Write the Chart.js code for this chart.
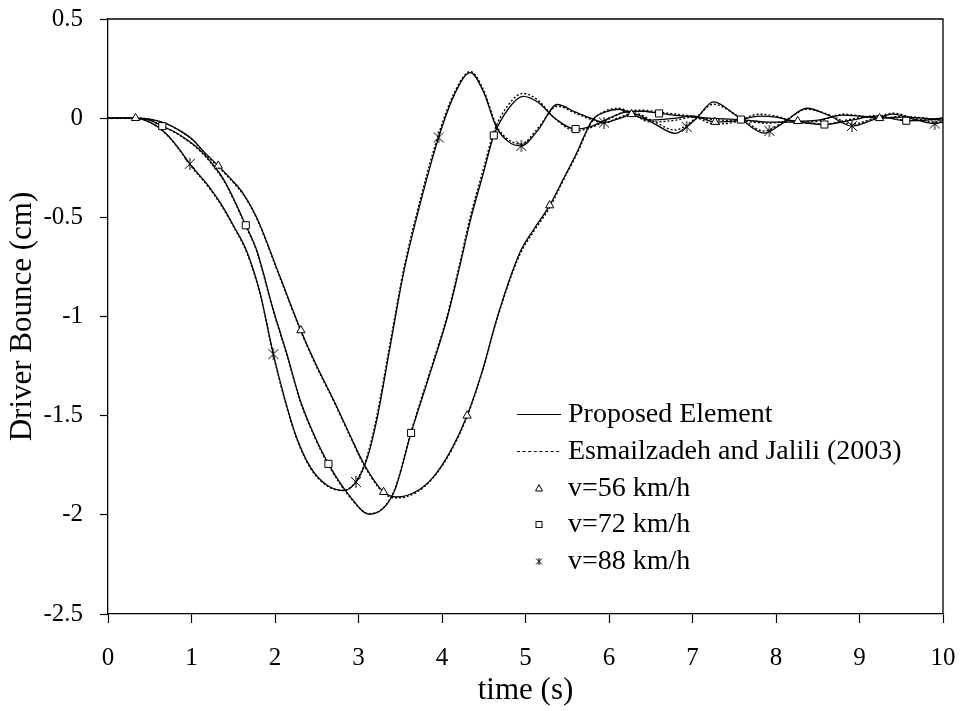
<!DOCTYPE html>
<html>
<head>
<meta charset="utf-8">
<script src="https://cdn.jsdelivr.net/npm/chart.js@4/dist/chart.umd.min.js"></script>
<style>
  html, body { margin: 0; padding: 0; background: #fff; }
  canvas { display: block; }
</style>
</head>
<body>
<canvas id="bounceChart" width="964" height="711"></canvas>
<script>
// driver bounce (cm) against time (s), one curve per vehicle speed
const t56 = [0, 0.33, 0.5, 0.7, 0.85, 1.02, 1.15, 1.32, 1.48, 1.62, 1.78, 2.06, 2.31, 2.5, 2.7, 2.9, 3.06, 3.3, 3.46, 3.7, 3.9, 4.1, 4.3, 4.5, 4.65, 4.93, 5.1, 5.29, 5.45, 5.61, 5.8, 5.95, 6.12, 6.27, 6.5, 6.8, 7.0, 7.27, 7.5, 7.8, 8.0, 8.26, 8.5, 8.8, 9.0, 9.24, 9.5, 9.75, 10];
const bounce56 = [0, 0, -0.005, -0.027, -0.06, -0.11, -0.17, -0.24, -0.31, -0.38, -0.5, -0.8, -1.07, -1.25, -1.42, -1.6, -1.74, -1.885, -1.91, -1.88, -1.807, -1.68, -1.5, -1.25, -1.02, -0.68, -0.56, -0.44, -0.31, -0.178, -0.01, 0.03, 0.045, 0.02, -0.01, 0, 0.012, -0.019, -0.015, 0.01, 0.005, -0.015, -0.01, 0.015, 0.01, 0, 0.005, 0, -0.01];
const ref56 = [0, 0, -0.005, -0.028, -0.062, -0.112, -0.173, -0.245, -0.315, -0.385, -0.505, -0.805, -1.075, -1.255, -1.425, -1.605, -1.745, -1.89, -1.915, -1.885, -1.81, -1.685, -1.505, -1.255, -1.025, -0.69, -0.57, -0.45, -0.315, -0.185, -0.015, 0.035, 0.05, 0.025, -0.02, -0.01, 0.005, -0.03, -0.02, 0.02, 0.01, -0.02, -0.015, 0.02, 0.012, 0, 0.008, 0.002, -0.01];

const t72 = [0, 0.3, 0.5, 0.65, 0.8, 0.95, 1.1, 1.25, 1.4, 1.65, 1.78, 1.98, 2.15, 2.3, 2.45, 2.64, 2.9, 3.13, 3.42, 3.63, 3.74, 3.9, 4.06, 4.2, 4.34, 4.5, 4.62, 4.8, 4.97, 5.15, 5.35, 5.6, 5.8, 6.0, 6.2, 6.4, 6.6, 6.9, 7.2, 7.58, 7.9, 8.2, 8.58, 8.9, 9.2, 9.56, 9.8, 10];
const bounce72 = [0, 0, -0.01, -0.04, -0.07, -0.11, -0.16, -0.23, -0.32, -0.54, -0.665, -0.967, -1.2, -1.42, -1.58, -1.743, -1.908, -1.997, -1.89, -1.587, -1.44, -1.23, -1.01, -0.77, -0.515, -0.27, -0.087, 0.05, 0.11, 0.08, 0, -0.055, -0.04, 0, 0.03, 0.035, 0.024, 0.01, 0, -0.007, -0.02, -0.02, -0.032, -0.01, 0.01, -0.013, -0.01, 0];
const ref72 = [0, 0, -0.01, -0.041, -0.072, -0.113, -0.164, -0.235, -0.325, -0.545, -0.67, -0.972, -1.205, -1.425, -1.585, -1.748, -1.912, -1.995, -1.885, -1.58, -1.43, -1.22, -1.0, -0.755, -0.495, -0.25, -0.07, 0.07, 0.125, 0.09, 0, -0.065, -0.045, -0.005, 0.035, 0.04, 0.03, 0.015, -0.005, -0.015, -0.025, -0.015, -0.03, -0.005, 0.012, -0.01, -0.008, 0.002];

const t88 = [0, 0.3, 0.5, 0.7, 0.86, 0.98, 1.2, 1.35, 1.5, 1.66, 1.82, 1.98, 2.12, 2.25, 2.42, 2.62, 2.82, 2.97, 3.1, 3.22, 3.38, 3.54, 3.74, 3.96, 4.15, 4.34, 4.5, 4.65, 4.8, 4.95, 5.15, 5.38, 5.6, 5.81, 5.94, 6.1, 6.3, 6.55, 6.79, 6.93, 7.05, 7.25, 7.55, 7.86, 8.1, 8.37, 8.65, 8.91, 9.15, 9.4, 9.65, 9.9, 10];
const bounce88 = [0, 0, -0.02, -0.08, -0.16, -0.23, -0.34, -0.43, -0.54, -0.67, -0.88, -1.19, -1.42, -1.6, -1.757, -1.85, -1.877, -1.835, -1.72, -1.52, -1.15, -0.78, -0.43, -0.097, 0.12, 0.23, 0.13, -0.044, -0.12, -0.14, -0.06, 0.069, 0.03, -0.005, -0.022, -0.005, 0.02, -0.03, -0.077, -0.044, 0, 0.082, 0.005, -0.075, -0.02, 0.05, 0.01, -0.04, -0.01, 0.02, -0.005, -0.027, -0.02];
const ref88 = [0, 0, -0.021, -0.082, -0.163, -0.234, -0.345, -0.435, -0.545, -0.675, -0.885, -1.195, -1.425, -1.605, -1.762, -1.853, -1.878, -1.83, -1.71, -1.5, -1.13, -0.765, -0.41, -0.08, 0.13, 0.235, 0.14, -0.035, -0.11, -0.13, -0.05, 0.06, 0.025, -0.01, -0.025, 0, 0.025, -0.02, -0.06, -0.035, 0.005, 0.07, 0.01, -0.065, -0.015, 0.045, 0.015, -0.03, -0.005, 0.025, 0, -0.02, -0.015];

// sparse marker samples along each curve
const mark56T = [0.33, 1.32, 2.31, 3.3, 4.3, 5.29, 6.27, 7.27, 8.26, 9.24];
const mark56V = [0, -0.24, -1.07, -1.885, -1.5, -0.44, 0.02, -0.019, -0.015, 0];
const mark72T = [0.65, 1.65, 2.64, 3.63, 4.62, 5.6, 6.6, 7.58, 8.58, 9.56];
const mark72V = [-0.04, -0.54, -1.743, -1.587, -0.087, -0.055, 0.024, -0.007, -0.032, -0.013];
const mark88T = [0.98, 1.98, 2.97, 3.96, 4.95, 5.94, 6.93, 7.92, 8.91, 9.9];
const mark88V = [-0.23, -1.19, -1.835, -0.097, -0.14, -0.022, -0.044, -0.064, -0.039, -0.027];

const yTicks = [-2.5, -2, -1.5, -1, -0.5, 0, 0.5];
const xTicks = [0, 1, 2, 3, 4, 5, 6, 7, 8, 9, 10];

const SERIF = '"Liberation Serif", "Times New Roman", serif';

function pairs(xs, ys) {
  return xs.map((x, i) => ({ x: x, y: ys[i] }));
}

// asterisk-like marker: an X with a vertical stroke
function asteriskMark(size, lw) {
  const c = document.createElement('canvas');
  c.width = size;
  c.height = size;
  const g = c.getContext('2d');
  g.strokeStyle = '#000';
  g.lineWidth = lw;
  g.beginPath();
  g.moveTo(1, 1); g.lineTo(size - 1, size - 1);
  g.moveTo(size - 1, 1); g.lineTo(1, size - 1);
  g.moveTo(size / 2, 0); g.lineTo(size / 2, size);
  g.stroke();
  return c;
}

const starPoint = asteriskMark(12, 1);

function curve(xs, ys, dashed) {
  return {
    data: pairs(xs, ys),
    borderColor: '#000',
    borderWidth: dashed ? 1.4 : 1.3,
    borderDash: dashed ? [2, 2] : [],
    pointRadius: 0,
    cubicInterpolationMode: 'monotone',
    fill: false
  };
}

function markers(xs, ys, style, radius) {
  return {
    data: pairs(xs, ys),
    showLine: false,
    pointStyle: style,
    pointRadius: radius,
    pointBackgroundColor: '#fff',
    pointBorderColor: '#000',
    pointBorderWidth: 1
  };
}

const datasets = [
  markers(mark56T, mark56V, 'triangle', 4.8),
  markers(mark72T, mark72V, 'rect', 5),
  markers(mark88T, mark88V, starPoint, 6),
  curve(t56, bounce56, false),
  curve(t72, bounce72, false),
  curve(t88, bounce88, false),
  curve(t56, ref56, true),
  curve(t72, ref72, true),
  curve(t88, ref88, true)
];

// top and right edges of the plot box
const frame = {
  id: 'frame',
  afterDraw(chart) {
    const { ctx, chartArea: a } = chart;
    ctx.save();
    ctx.strokeStyle = '#000';
    ctx.lineWidth = 1.3;
    ctx.beginPath();
    ctx.moveTo(a.left, a.top);
    ctx.lineTo(a.right, a.top);
    ctx.lineTo(a.right, a.bottom);
    ctx.stroke();
    ctx.restore();
  }
};

const legendRows = [
  { text: 'Proposed Element', kind: 'solid' },
  { text: 'Esmailzadeh and Jalili (2003)', kind: 'dotted' },
  { text: 'v=56 km/h', kind: 'triangle' },
  { text: 'v=72 km/h', kind: 'rect' },
  { text: 'v=88 km/h', kind: 'star' }
];

const legendBox = {
  id: 'legendBox',
  afterDraw(chart) {
    const { ctx, chartArea: a } = chart;
    const x0 = a.left + 409;
    const y0 = a.top + 395;
    ctx.save();
    ctx.font = '28px ' + SERIF;
    ctx.fillStyle = '#000';
    ctx.strokeStyle = '#000';
    ctx.textBaseline = 'middle';
    legendRows.forEach((row, i) => {
      const y = Math.round(y0 + i * 36.8) + 0.5;
      const mx = x0 + 22;
      ctx.lineWidth = 1.2;
      ctx.setLineDash([]);
      if (row.kind === 'solid' || row.kind === 'dotted') {
        if (row.kind === 'dotted') ctx.setLineDash([3, 2.6]);
        ctx.beginPath();
        ctx.moveTo(x0, y);
        ctx.lineTo(x0 + 44, y);
        ctx.stroke();
        ctx.setLineDash([]);
      } else if (row.kind === 'triangle') {
        ctx.lineWidth = 1;
        ctx.beginPath();
        ctx.moveTo(mx, y - 4);
        ctx.lineTo(mx + 3.5, y + 2.5);
        ctx.lineTo(mx - 3.5, y + 2.5);
        ctx.closePath();
        ctx.stroke();
      } else if (row.kind === 'rect') {
        ctx.lineWidth = 1;
        ctx.strokeRect(mx - 3, y - 3, 6, 6);
      } else {
        ctx.lineWidth = 1;
        ctx.beginPath();
        ctx.moveTo(mx - 3, y - 3); ctx.lineTo(mx + 3, y + 3);
        ctx.moveTo(mx + 3, y - 3); ctx.lineTo(mx - 3, y + 3);
        ctx.moveTo(mx, y - 3.5); ctx.lineTo(mx, y + 3.5);
        ctx.stroke();
      }
      ctx.fillText(row.text, x0 + 51, y);
    });
    ctx.restore();
  }
};

// the plot box is placed by the layout padding alone, not by label overhang
function noOverhang(scale) {
  scale.paddingTop = 0;
  scale.paddingBottom = 0;
  scale.paddingLeft = 0;
  scale.paddingRight = 0;
}

const ctx = document.getElementById('bounceChart').getContext('2d');
new Chart(ctx, {
  type: 'line',
  data: { datasets: datasets },
  options: {
    responsive: false,
    animation: false,
    devicePixelRatio: 1,
    events: [],
    layout: { padding: { left: 0, right: 21, top: 19, bottom: 0 } },
    plugins: {
      legend: { display: false },
      tooltip: { enabled: false }
    },
    scales: {
      x: {
        type: 'linear',
        min: 0,
        max: 10,
        afterBuildTicks(scale) {
          scale.ticks = xTicks.map(v => ({ value: v }));
        },
        afterFit(scale) {
          scale.height = 97;
          noOverhang(scale);
        },
        ticks: {
          color: '#000',
          padding: 20,
          maxRotation: 0,
          font: { family: SERIF, size: 25 },
          callback: v => String(v)
        },
        grid: { drawOnChartArea: false, drawTicks: true, tickLength: 9, color: '#000', tickWidth: 1.2 },
        border: { color: '#000', width: 1.3 },
        title: {
          display: true,
          text: 'time (s)',
          color: '#000',
          font: { family: SERIF, size: 31 },
          padding: { top: 0, bottom: 2 }
        }
      },
      y: {
        type: 'linear',
        min: -2.5,
        max: 0.5,
        afterBuildTicks(scale) {
          scale.ticks = yTicks.map(v => ({ value: v }));
        },
        afterFit(scale) {
          scale.width = 108;
          noOverhang(scale);
        },
        ticks: {
          color: '#000',
          padding: 17,
          font: { family: SERIF, size: 25 },
          callback: v => String(v)
        },
        grid: { drawOnChartArea: false, drawTicks: true, tickLength: 8, color: '#000', tickWidth: 1.2 },
        border: { color: '#000', width: 1.3 },
        title: {
          display: true,
          text: 'Driver Bounce (cm)',
          color: '#000',
          font: { family: SERIF, size: 31 },
          padding: { top: 4, bottom: 0 }
        }
      }
    }
  },
  plugins: [frame, legendBox]
});
</script>
</body>
</html>
